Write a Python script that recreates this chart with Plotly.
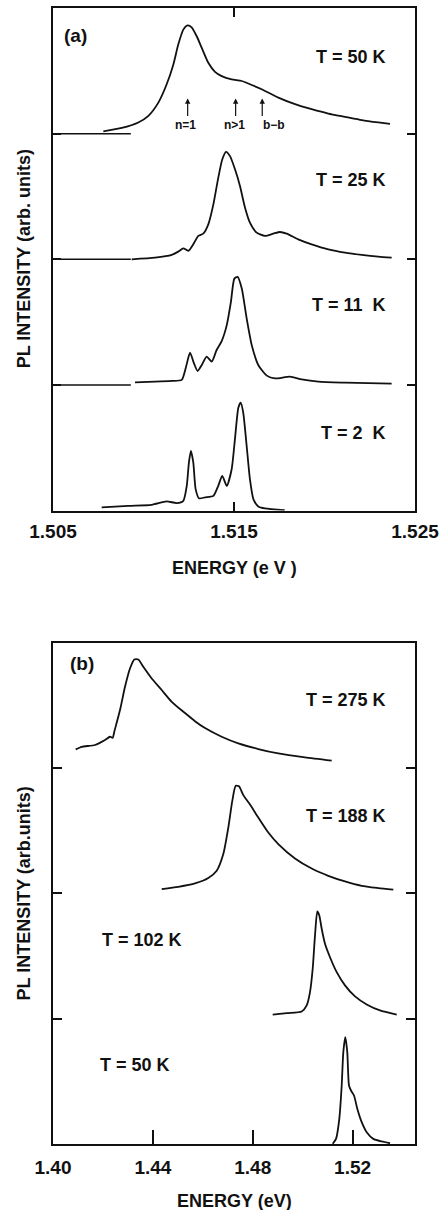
import plotly.graph_objects as go

# ---------------- Panel (a) data : energy (eV), intensity (band units) ----------
e_a50 = [1.50778, 1.50880, 1.50971, 1.51027, 1.51082, 1.51128, 1.51165, 1.51192, 1.51220,
         1.51244, 1.51266, 1.51294, 1.51322, 1.51358, 1.51395, 1.51432, 1.51487, 1.51543,
         1.51598, 1.51653, 1.51745, 1.51837, 1.51929, 1.52021, 1.52113, 1.52206, 1.52297, 1.52362]
i_a50 = [0.018, 0.045, 0.089, 0.142, 0.247, 0.393, 0.551, 0.709, 0.828,
         0.862, 0.846, 0.775, 0.682, 0.564, 0.492, 0.458, 0.432, 0.419,
         0.387, 0.353, 0.287, 0.235, 0.195, 0.160, 0.134, 0.108, 0.089, 0.077]

e_a25 = [1.50935, 1.51064, 1.51156, 1.51192, 1.51220, 1.51248, 1.51275, 1.51303, 1.51330,
         1.51358, 1.51386, 1.51413, 1.51435, 1.51456, 1.51478, 1.51506, 1.51533, 1.51561,
         1.51588, 1.51625, 1.51671, 1.51717, 1.51754, 1.51791, 1.51855, 1.51929, 1.52021,
         1.52113, 1.52206, 1.52297, 1.52371]
i_a25 = [0.000, 0.013, 0.035, 0.061, 0.087, 0.067, 0.119, 0.186, 0.204,
         0.278, 0.437, 0.648, 0.794, 0.855, 0.821, 0.714, 0.583, 0.410,
         0.291, 0.212, 0.186, 0.204, 0.217, 0.204, 0.159, 0.119, 0.079,
         0.053, 0.035, 0.021, 0.013]

e_a11 = [1.50953, 1.51064, 1.51156, 1.51211, 1.51233, 1.51257, 1.51279, 1.51299, 1.51322,
         1.51349, 1.51377, 1.51404, 1.51432, 1.51460, 1.51483, 1.51502, 1.51520, 1.51543,
         1.51570, 1.51598, 1.51634, 1.51681, 1.51727, 1.51809, 1.51874, 1.51966, 1.52113, 1.52371]
i_a11 = [0.021, 0.026, 0.032, 0.040, 0.132, 0.256, 0.171, 0.111, 0.159,
         0.225, 0.185, 0.278, 0.349, 0.476, 0.661, 0.846, 0.860, 0.767,
         0.529, 0.317, 0.159, 0.074, 0.052, 0.066, 0.044, 0.026, 0.018, 0.010]

e_a2 = [1.50769, 1.50916, 1.51045, 1.51128, 1.51183, 1.51220, 1.51239, 1.51251, 1.51262,
        1.51275, 1.51288, 1.51307, 1.51340, 1.51386, 1.51413, 1.51435, 1.51460, 1.51487,
        1.51506, 1.51524, 1.51537, 1.51551, 1.51570, 1.51588, 1.51607, 1.51634, 1.51671, 1.51780]
i_a2 = [0.025, 0.038, 0.046, 0.073, 0.060, 0.078, 0.197, 0.383, 0.475,
        0.383, 0.171, 0.097, 0.105, 0.117, 0.197, 0.276, 0.197, 0.329,
        0.581, 0.819, 0.859, 0.779, 0.514, 0.250, 0.091, 0.033, 0.017, 0.003]

# ---------------- Panel (b) data ----------------
e_b275 = [1.40909, 1.41150, 1.41682, 1.42083, 1.42283, 1.42391, 1.42455, 1.42684, 1.42884,
          1.43084, 1.43257, 1.43417, 1.43617, 1.43953, 1.44354, 1.44755, 1.45287, 1.45688,
          1.46088, 1.46757, 1.47422, 1.48223, 1.49024, 1.50094, 1.51163]
i_b275 = [0.150, 0.171, 0.185, 0.225, 0.251, 0.243, 0.291, 0.464, 0.650,
          0.796, 0.868, 0.868, 0.809, 0.716, 0.624, 0.530, 0.440, 0.375,
          0.320, 0.251, 0.198, 0.153, 0.118, 0.086, 0.060]

e_b188 = [1.44354, 1.45019, 1.45688, 1.46221, 1.46557, 1.46821, 1.47022, 1.47182, 1.47318,
          1.47450, 1.47623, 1.47891, 1.48223, 1.48624, 1.49024, 1.49693, 1.50362, 1.51027,
          1.51696, 1.52365, 1.53030, 1.53631]
i_b188 = [0.035, 0.053, 0.080, 0.123, 0.181, 0.314, 0.526, 0.739, 0.859,
          0.855, 0.785, 0.710, 0.606, 0.486, 0.394, 0.279, 0.199, 0.141,
          0.096, 0.061, 0.043, 0.030]

e_b102 = [1.48800, 1.49361, 1.49962, 1.50162, 1.50294, 1.50402, 1.50494, 1.50587, 1.50667,
          1.50763, 1.50895, 1.51095, 1.51364, 1.51696, 1.52097, 1.52565, 1.53098, 1.53767]
i_b102 = [0.032, 0.045, 0.058, 0.106, 0.212, 0.399, 0.664, 0.856, 0.824,
          0.718, 0.598, 0.491, 0.372, 0.266, 0.178, 0.114, 0.066, 0.032]

e_b50 = [1.51203, 1.51336, 1.51468, 1.51564, 1.51628, 1.51708, 1.51788, 1.51856, 1.51936,
         1.52057, 1.52189, 1.52365, 1.52565, 1.52830, 1.53166, 1.53499]
i_b50 = [0.002, 0.041, 0.201, 0.467, 0.732, 0.852, 0.732, 0.467, 0.427,
         0.387, 0.281, 0.174, 0.094, 0.041, 0.020, 0.006]

labels_a = ["T = 50 K", "T = 25 K", "T = 11\u00a0 K", "T = 2\u00a0 K"]
labels_b = ["T = 275 K", "T = 188 K", "T = 102 K", "T = 50 K"]
ticks_a = [1.505, 1.515, 1.525]
ticks_b = [1.40, 1.44, 1.48, 1.52]
arrow_e = [1.51244, 1.51509, 1.51656]
arrow_lbl_e = [1.51231, 1.51500, 1.51721]
arrow_txt = ["n=1", "n>1", "b\u2212b"]

curves_a = [(e_a50, i_a50), (e_a25, i_a25), (e_a11, i_a11), (e_a2, i_a2)]
curves_b = [(e_b275, i_b275), (e_b188, i_b188), (e_b102, i_b102), (e_b50, i_b50)]
offsets = [3, 2, 1, 0]

INK = "#111111"
LW = 1.8
FONT = "Liberation Sans, Arial, sans-serif"

fig = go.Figure()
for (e, i), off in zip(curves_a, offsets):
    fig.add_trace(go.Scatter(x=e, y=[off + v for v in i], mode="lines",
                             line=dict(color=INK, width=LW, shape="spline", smoothing=0.6),
                             xaxis="x", yaxis="y", showlegend=False, hoverinfo="skip"))
for (e, i), off in zip(curves_b, offsets):
    fig.add_trace(go.Scatter(x=e, y=[off + v for v in i], mode="lines",
                             line=dict(color=INK, width=LW, shape="spline", smoothing=0.6),
                             xaxis="x2", yaxis="y2", showlegend=False, hoverinfo="skip"))

dom_a = [0.5576, 1.0]
dom_b = [0.0, 0.4411]

axis_common = dict(showgrid=False, zeroline=False, showline=True, linecolor=INK,
                   linewidth=1.5, ticks="inside", tickcolor=INK, tickwidth=1.5)

fig.update_layout(
    width=446, height=1210,
    margin=dict(l=53, r=31, t=6, b=66),
    plot_bgcolor="white", paper_bgcolor="white",
    font=dict(family=FONT, color=INK),
    xaxis=dict(domain=[0, 1], range=[1.505, 1.525], anchor="y",
               tickvals=ticks_a, ticktext=["<b>%.3f</b>" % t for t in ticks_a],
               ticklen=9, mirror="ticks", tickfont=dict(size=19, color=INK),
               ticklabelstandoff=3, **axis_common),
    yaxis=dict(domain=dom_a, range=[0, 4], anchor="x", tickvals=[1, 2, 3],
               showticklabels=False, ticklen=8, mirror="ticks", **axis_common),
    xaxis2=dict(domain=[0, 1], range=[1.40, 1.545], anchor="y2",
                tickvals=ticks_b, ticktext=["<b>%.2f</b>" % t for t in ticks_b],
                ticklen=14, mirror=True, tickfont=dict(size=19, color=INK),
                ticklabelstandoff=5, **axis_common),
    yaxis2=dict(domain=dom_b, range=[0, 4], anchor="x2", tickvals=[1, 2, 3],
                showticklabels=False, ticklen=9, mirror="ticks", **axis_common),
)

# baseline stubs on the left of panel (a)
for off in [1, 2, 3]:
    fig.add_shape(type="line", xref="x domain", yref="y", x0=0, x1=0.215, y0=off, y1=off,
                  line=dict(color=INK, width=1.5))

ann = []
# panel labels
ann.append(dict(text="<b>(a)</b>", xref="x domain", yref="y domain", x=0.024, y=0.946,
                xanchor="left", yanchor="middle", showarrow=False, font=dict(size=19)))
ann.append(dict(text="<b>(b)</b>", xref="x2 domain", yref="y2 domain", x=0.042, y=0.959,
                xanchor="left", yanchor="middle", showarrow=False, font=dict(size=19)))
# temperature labels
for lab, yd in zip(labels_a, [0.903, 0.658, 0.4095, 0.155]):
    ann.append(dict(text="<b>%s</b>" % lab, xref="x domain", yref="y domain", x=0.926, y=yd,
                    xanchor="right", yanchor="middle", showarrow=False, font=dict(size=18)))
for lab, xd, yd, xa in zip(labels_b, [0.926, 0.926, 0.130, 0.125], [0.886, 0.655, 0.407, 0.158],
                           ["right", "right", "left", "left"]):
    ann.append(dict(text="<b>%s</b>" % lab, xref="x2 domain", yref="y2 domain", x=xd, y=yd,
                    xanchor=xa, yanchor="middle", showarrow=False, font=dict(size=18)))
# arrows in panel (a)
for ea, el, t in zip(arrow_e, arrow_lbl_e, arrow_txt):
    ann.append(dict(text="", xref="x", yref="y domain", x=ea, y=0.820, ax=0, ay=19,
                    showarrow=True, arrowhead=2, arrowsize=0.9, arrowwidth=1.2, arrowcolor=INK))
    ann.append(dict(text="<b>%s</b>" % t, xref="x", yref="y domain", x=el, y=0.767,
                    xanchor="center", yanchor="middle", showarrow=False, font=dict(size=12)))
# axis titles
ann.append(dict(text="<b>ENERGY (e V )</b>", xref="paper", yref="paper", x=0.5, y=0.507,
                xanchor="center", yanchor="middle", showarrow=False, font=dict(size=18)))
ann.append(dict(text="<b>ENERGY (eV)</b>", xref="paper", yref="paper", x=0.5, y=-0.0501,
                xanchor="center", yanchor="middle", showarrow=False, font=dict(size=18)))
ann.append(dict(text="<b>PL INTENSITY (arb. units)</b>", xref="paper", yref="y domain",
                x=-0.08, y=0.5, textangle=-90, xanchor="center", yanchor="middle",
                showarrow=False, font=dict(size=18)))
ann.append(dict(text="<b>PL INTENSITY (arb.units)</b>", xref="paper", yref="y2 domain",
                x=-0.08, y=0.5, textangle=-90, xanchor="center", yanchor="middle",
                showarrow=False, font=dict(size=18)))
fig.update_layout(annotations=ann)

fig.write_html("out.html")
